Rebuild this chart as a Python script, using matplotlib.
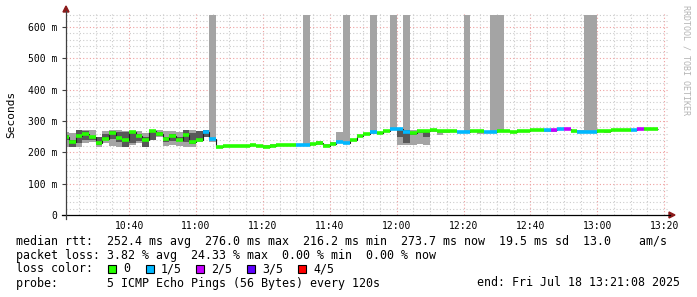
import numpy as np
import matplotlib
matplotlib.use("Agg")
import matplotlib.pyplot as plt
from matplotlib.lines import Line2D
from matplotlib.patches import Polygon, Rectangle

W, H = 697, 297

# 2-minute steps, minutes after 10:00
bin_start = list(range(20, 198, 2))
median = [250, 232, 251, 258, 248, 230, 244, 262, 245, 240,
          265, 251, 239, 268, 258, 243, 251, 240, 254, 232,
          240, 264, 243, 217, 220, 220, 219, 220, 223, 219,
          218, 220, 222, 223, 224, 225, 223, 226, 230, 221,
          228, 233, 231, 240, 252, 260, 264, 262, 267, 275,
          274, 266, 262, 267, 268, 270, 267, 267, 268, 266,
          266, 268, 268, 265, 266, 268, 268, 266, 268, 268,
          270, 270, 272, 270, 274, 274, 268, 266, 266, 266,
          268, 268, 270, 270, 271, 270, 275, 275, 275]
loss = [0, 0, 0, 0, 0, 0, 0, 0, 0, 0,
        0, 0, 0, 0, 0, 0, 0, 0, 0, 0,
        0, 1, 1, 0, 0, 0, 0, 0, 0, 0,
        0, 0, 0, 0, 0, 1, 1, 0, 0, 0,
        0, 1, 1, 0, 0, 0, 1, 0, 0, 1,
        1, 1, 0, 0, 0, 0, 0, 0, 0, 1,
        1, 0, 0, 1, 1, 0, 0, 0, 0, 0,
        0, 0, 1, 2, 1, 2, 0, 1, 1, 1,
        0, 0, 0, 0, 0, 1, 2, 0, 0]
light_lo = [218, 216, 216, 229, 234, 216, 229, 220, 218, 216,
            223, 231, 216, 239, 248, 220, 222, 220, 218, 216,
            234, 250, 234, 214, 218, 218, 217, 218, 220, 217,
            216, 217, 219, 221, 222, 223, 221, 222, 224, 218,
            224, 230, 228, 237, 249, 257, 260, 259, 264, 272,
            223, 223, 223, 226, 223, 266, 255, 262, 264, 263,
            263, 265, 260, 262, 263, 265, 265, 263, 265, 264,
            267, 267, 266, 264, 271, 271, 265, 263, 263, 263,
            265, 261, 267, 267, 268, 267, 272, 272, 272]
light_hi = [266, 263, 273, 273, 271, 248, 269, 273, 271, 269,
            269, 269, 261, 273, 271, 269, 269, 266, 271, 271,
            269, 271, 638, 220, 222, 222, 221, 222, 225, 221,
            222, 228, 228, 225, 226, 227, 638, 230, 235, 226,
            232, 264, 638, 244, 255, 263, 638, 266, 270, 638,
            277, 638, 271, 271, 270, 273, 270, 270, 271, 269,
            638, 271, 271, 268, 638, 638, 271, 269, 271, 271,
            273, 273, 276, 275, 277, 277, 271, 270, 638, 638,
            271, 271, 273, 273, 276, 273, 278, 278, 278]
dark_lo = [240, 218, 231, 241, 241, 223, 239, 244, 234, 218,
           229, 237, 218, 241, 252, 234, 237, 237, 234, 226,
           237, 250, 240, 215, 219, 219, 218, 219, 222, 218,
           217, 219, 220, 222, 223, 224, 222, 224, 228, 219,
           226, 231, 229, 238, 250, 258, 262, 260, 265, 273,
           250, 229, 255, 262, 250, 268, 264, 265, 266, 264,
           264, 266, 266, 263, 264, 266, 266, 264, 266, 266,
           268, 268, 270, 268, 272, 272, 266, 264, 264, 264,
           266, 266, 268, 268, 270, 268, 273, 273, 273]
dark_hi = [256, 241, 273, 269, 252, 248, 258, 269, 266, 266,
           269, 258, 250, 271, 265, 250, 258, 250, 271, 263,
           269, 271, 246, 219, 221, 221, 220, 221, 224, 220,
           219, 223, 224, 224, 225, 226, 225, 228, 232, 224,
           230, 236, 234, 243, 254, 262, 267, 264, 269, 277,
           276, 270, 266, 269, 268, 272, 269, 269, 270, 268,
           268, 270, 270, 267, 268, 272, 270, 268, 270, 271,
           272, 272, 274, 273, 276, 276, 270, 268, 268, 268,
           270, 270, 272, 272, 275, 272, 277, 277, 277]

loss_colors = ["#26ff00", "#00b8ff", "#c600ff", "#5e00ff", "#ff0000"]
loss_labels = ["0", "1/5", "2/5", "3/5", "4/5"]

x_ticks = [40, 60, 80, 100, 120, 140, 160, 180, 200]
x_labels = ["10:40", "11:00", "11:20", "11:40", "12:00", "12:20", "12:40", "13:00", "13:20"]
y_ticks = [0, 100, 200, 300, 400, 500, 600]
y_labels = ["0", "100 m", "200 m", "300 m", "400 m", "500 m", "600 m"]

legend_lines = [
    "median rtt:  252.4 ms avg  276.0 ms max  216.2 ms min  273.7 ms now  19.5 ms sd  13.0    am/s",
    "packet loss: 3.82 % avg  24.33 % max  0.00 % min  0.00 % now",
]
probe_text = "probe:       5 ICMP Echo Pings (56 Bytes) every 120s"
end_text = "end: Fri Jul 18 13:21:08 2025"

MONO = "DejaVu Sans Mono"
plt.rcParams["font.family"] = MONO


def fx(px):
    return px / W


def fy(py):
    return 1 - py / H


fig = plt.figure(figsize=(W / 100, H / 100), dpi=100)
fig.patch.set_facecolor("white")
ax = fig.add_axes([fx(66), fy(215), fx(668) - fx(66), fy(13) - fy(215)])
ax.set_xlim(21.13, 201.13)
ax.set_ylim(0, 645)
for s in ax.spines.values():
    s.set_visible(False)

# grid: minor every 5 min / 20 ms, major every 20 min / 100 ms
for m in range(25, 201, 5):
    major = m % 20 == 0
    ax.axvline(m, color="#eea0a0" if major else "#cccccc", lw=0.8,
               dashes=(1, 2), zorder=0)
for v in range(20, 645, 20):
    major = v % 100 == 0
    ax.axhline(v, color="#eea0a0" if major else "#cccccc", lw=0.8,
               dashes=(1, 2), zorder=0)

edges = np.append(bin_start, bin_start[-1] + 2)
ax.stairs(light_hi, edges, baseline=light_lo, fill=True, color="#a4a4a4", lw=0, zorder=2)
ax.stairs(dark_hi, edges, baseline=dark_lo, fill=True, color="#585858", lw=0, zorder=3)
ax.stairs(median, edges, baseline=None, color="#202020", lw=0.8, zorder=4)
ax.hlines(median, edges[:-1], edges[1:], colors=[loss_colors[l] for l in loss],
          lw=2.6, capstyle="butt", zorder=5)

ax.set_xticks(x_ticks)
ax.set_xticklabels(x_labels)
ax.set_yticks(y_ticks)
ax.set_yticklabels(y_labels)
ax.tick_params(axis="x", length=0, pad=4.5, labelsize=7)
ax.tick_params(axis="y", length=3, width=0.8, color="#404040", pad=3, labelsize=7)
fig.text(fx(11), fy(114), "Seconds", rotation=90, fontsize=8, ha="center", va="center")

# axis lines with arrows
fig.add_artist(Line2D([fx(62), fx(670)], [fy(215), fy(215)], color="black", lw=0.9))
fig.add_artist(Line2D([fx(66), fx(66)], [fy(219), fy(11)], color="#404040", lw=0.9))
fig.add_artist(Polygon([[fx(669), fy(212)], [fx(675), fy(215)], [fx(669), fy(218)]],
                       closed=True, color="#8b1a1a"))
fig.add_artist(Polygon([[fx(63), fy(12)], [fx(66), fy(6)], [fx(69), fy(12)]],
                       closed=True, color="#8b1a1a"))

fig.text(fx(686), fy(5), "RRDTOOL / TOBI OETIKER", rotation=270, fontsize=6,
         color="#b4b4b4", ha="center", va="top")

# legend block
fs = 8.35
fig.text(fx(16), fy(241.5), legend_lines[0], fontsize=fs, va="center", ha="left")
fig.text(fx(16), fy(255), legend_lines[1], fontsize=fs, va="center", ha="left")
fig.text(fx(16), fy(269), "loss color:", fontsize=fs, va="center", ha="left")
box_x = [108, 146, 196, 247, 298]
for bx, col, lab in zip(box_x, loss_colors, loss_labels):
    fig.add_artist(Rectangle((fx(bx), fy(273)), fx(8), 8 / H, facecolor=col,
                             edgecolor="black", lw=0.8))
    fig.text(fx(bx + 15), fy(269), lab, fontsize=fs, va="center", ha="left")
fig.text(fx(16), fy(283), probe_text, fontsize=fs, va="center", ha="left")
fig.text(fx(680), fy(283), end_text, fontsize=fs, va="center", ha="right")

fig.savefig("out.png", dpi=100, facecolor="white")
